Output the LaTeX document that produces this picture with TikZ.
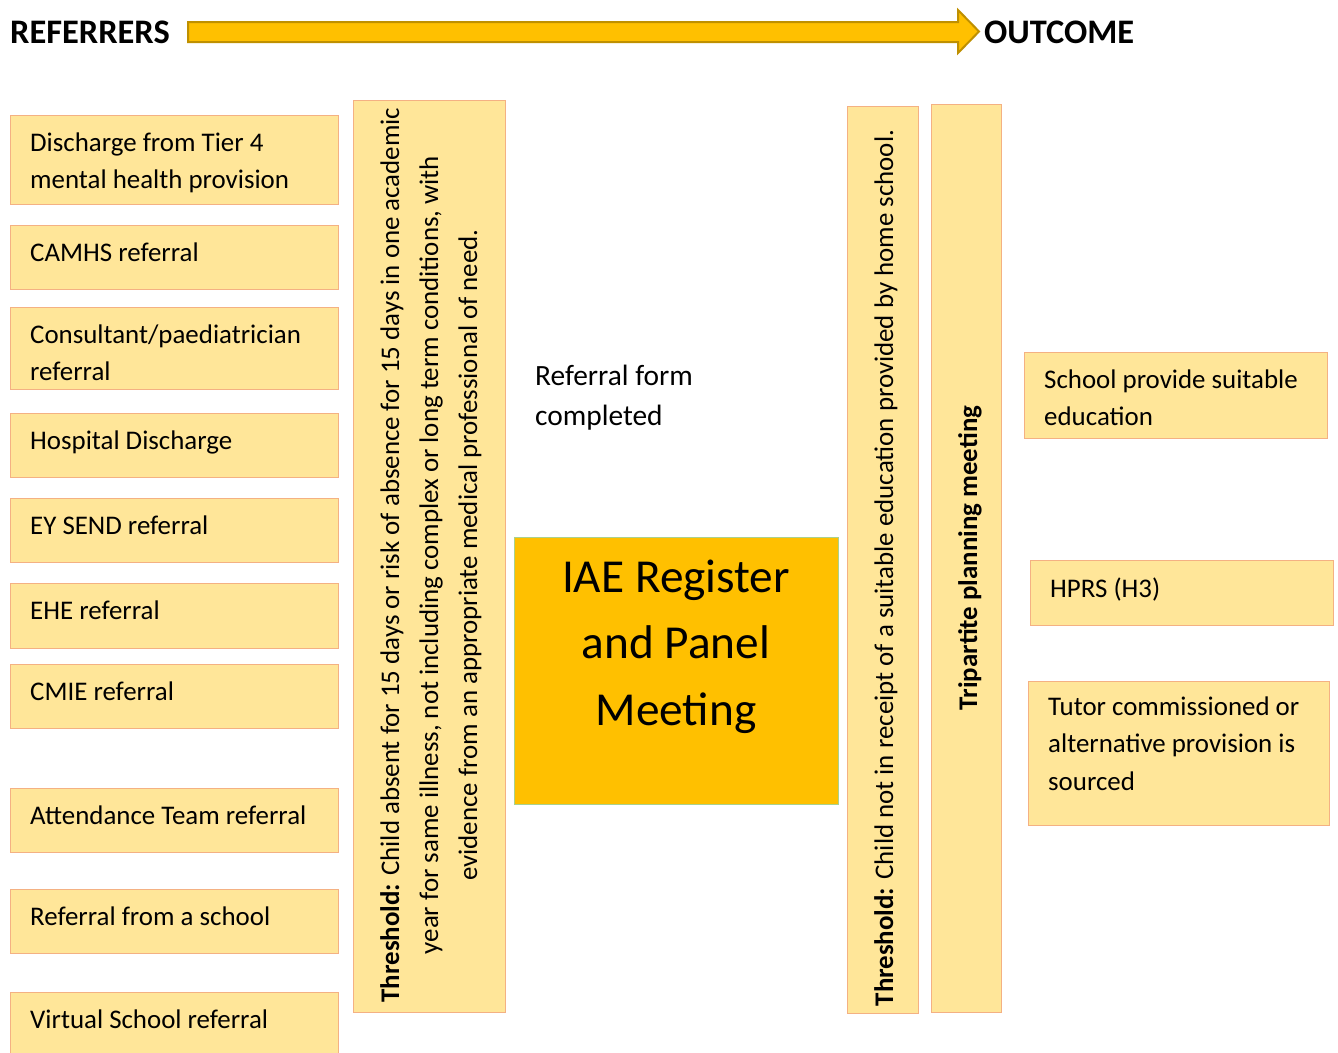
\documentclass[tikz,border=0pt]{standalone}
\usepackage{fontspec}
\setmainfont{Carlito}
\usetikzlibrary{calc}
\definecolor{boxfill}{HTML}{FFE699}
\definecolor{boxline}{HTML}{F4B183}
\definecolor{gold}{HTML}{FFC000}
\definecolor{goldline}{HTML}{BF9000}
\definecolor{greenline}{HTML}{A9D18E}
\newcommand{\bodyfont}{\fontsize{26.9}{37.2}\selectfont}
\begin{document}
\begin{tikzpicture}[x=1pt,y=-1pt,
  box/.style={draw=boxline, fill=boxfill, line width=1.3pt, anchor=north west, inner sep=0pt},
  refbox/.style={box, minimum width=328pt},
  btext/.style={anchor=base west, inner sep=0pt, align=left, font=\bodyfont},
  vtext/.style={rotate=90, anchor=base, inner sep=0pt, align=center, font=\fontsize{26.9}{39}\selectfont},
  title/.style={anchor=base west, inner sep=0pt, font=\fontsize{34.4}{40}\selectfont\bfseries}]
\useasboundingbox (0,0) rectangle (1338,1052);
\fill[white] (0,0) rectangle (1338,1052);
\clip (0,0) rectangle (1338,1052);

% header
\node[title] (referrers) at (10,43) {REFERRERS};
\node[title] (outcome) at (984,43) {OUTCOME};
\draw[goldline, fill=gold, line width=2pt, line join=miter]
  (188,22) -- (958,22) -- (958,10) -- (979,31.5) -- (958,53) -- (958,42) -- (188,42) -- cycle;

% referrers
\node[refbox, minimum height=89pt] (r1) at (10,115) {};
\node[btext] (r1t) at (30,188.7) {Discharge from Tier 4\\mental health provision};
\node[refbox, minimum height=64pt] (r2) at (10,225) {};
\node[btext] (r2t) at (30,261.5) {CAMHS referral};
\node[refbox, minimum height=82pt] (r3) at (10,307) {};
\node[btext] (r3t) at (30,380.7) {Consultant/paediatrician\\referral};
\node[refbox, minimum height=64pt] (r4) at (10,413) {};
\node[btext] (r4t) at (30,449.5) {Hospital Discharge};
\node[refbox, minimum height=64pt] (r5) at (10,498) {};
\node[btext] (r5t) at (30,534.5) {EY SEND referral};
\node[refbox, minimum height=65pt] (r6) at (10,583) {};
\node[btext] (r6t) at (30,619.5) {EHE referral};
\node[refbox, minimum height=64pt] (r7) at (10,664) {};
\node[btext] (r7t) at (30,700.5) {CMIE referral};
\node[refbox, minimum height=64pt] (r8) at (10,788) {};
\node[btext] (r8t) at (30,824.5) {Attendance Team referral};
\node[refbox, minimum height=64pt] (r9) at (10,889) {};
\node[btext] (r9t) at (30,925.5) {Referral from a school};
\node[refbox, minimum height=70pt] (r10) at (10,992) {};
\node[btext] (r10t) at (30,1028.5) {Virtual School referral};

% threshold 1
\node[box, minimum width=152pt, minimum height=912pt] (thr1) at (353,100) {};
\node[vtext] (thr1t) at (477,555)
  {\textbf{Threshold:} Child absent for 15 days or risk of absence for 15 days in one academic\\
   year for same illness, not including complex or long term conditions, with\\
   evidence from an appropriate medical professional of need.};

% referral form completed
\node[anchor=base west, inner sep=0pt, align=left, font=\fontsize{29.4}{40}\selectfont] (rfc) at (535,425)
  {Referral form\\completed};

% IAE box
\node[draw=greenline, fill=gold, line width=1.3pt, minimum width=324pt, minimum height=267pt,
  anchor=north west, inner sep=0pt] (iae) at (514,537) {};
\node[anchor=base, inner sep=0pt, align=center, font=\fontsize{47.3}{66.5}\selectfont] (iaetext) at (676,725)
  {IAE Register\\and Panel\\Meeting};

% threshold 2
\node[box, minimum width=71pt, minimum height=907pt] (thr2) at (847,106) {};
\node[vtext] (thr2t) at (893,568)
  {\textbf{Threshold:} Child not in receipt of a suitable education provided by home school.};

% tripartite
\node[box, minimum width=70pt, minimum height=908pt] (trip) at (931,104) {};
\node[vtext, font=\fontsize{26.9}{39}\selectfont\bfseries] (tript) at (977,558)
  {Tripartite planning meeting};

% outcomes
\node[box, minimum width=303pt, minimum height=86pt] (o1) at (1024,352) {};
\node[btext] (o1t) at (1044,425.5) {School provide suitable\\education};
\node[box, minimum width=303pt, minimum height=65pt] (o2) at (1030,560) {};
\node[btext] (o2t) at (1050,597) {HPRS (H3)};
\node[box, minimum width=301pt, minimum height=144pt] (o3) at (1028,681) {};
\node[btext] (o3t) at (1048,790) {Tutor commissioned or\\alternative provision is\\sourced};
\end{tikzpicture}
\end{document}
